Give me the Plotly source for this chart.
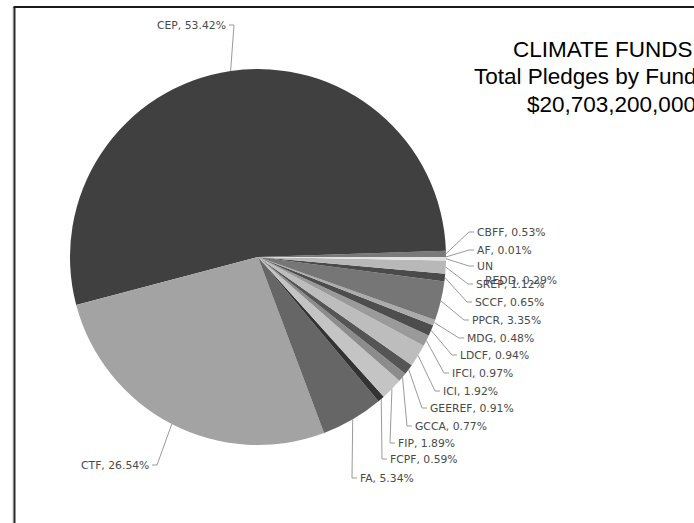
import math
import plotly.graph_objects as go

# Climate funds: share of total pledges (%)
funds = ["AF", "CBFF", "CEP", "CTF", "FA", "FCPF", "FIP", "GCCA", "GEEREF",
         "ICI", "IFCI", "LDCF", "MDG", "PPCR", "SCCF", "SREP", "UN-REDD"]
shares = [0.01, 0.53, 53.42, 26.54, 5.34, 0.59, 1.89, 0.77, 0.91,
          1.92, 0.97, 0.94, 0.48, 3.35, 0.65, 1.12, 0.29]
greys = ["#8a8a8a", "#7a7a7a", "#404040", "#a3a3a3", "#666666", "#333333",
         "#c4c4c4", "#8c8c8c", "#555555", "#bdbdbd", "#9a9a9a", "#4d4d4d",
         "#ababab", "#767676", "#4a4a4a", "#b8b8b8", "#e2e2e2"]
title_lines = ["CLIMATE FUNDS", "Total Pledges by Fund", "$20,703,200,000"]

W, H = 694, 523
cx, cy, r = 258, 257, 188  # pie centre / radius in pixels

# label anchor (px): x where the text meets its leader line, y of text centre;
# side "L" = text sits left of the leader line
label_pos = {
    "CEP": (228, 25, "L"), "CTF": (151, 465, "L"),
    "FA": (358, 478, "R"), "FCPF": (388, 459, "R"), "FIP": (396, 443, "R"),
    "GCCA": (413, 426, "R"), "GEEREF": (428, 408, "R"), "ICI": (441, 391, "R"),
    "IFCI": (450, 373, "R"), "LDCF": (458, 355, "R"), "MDG": (465, 338, "R"),
    "PPCR": (470, 320, "R"), "SCCF": (473, 302, "R"), "SREP": (474, 284, "R"),
    "UN-REDD": (475, 266, "R"), "AF": (475, 250, "R"), "CBFF": (475, 232, "R"),
}

fig = go.Figure(go.Pie(
    labels=funds,
    values=shares,
    sort=False,
    direction="counterclockwise",
    rotation=90,  # first slice starts at 3 o'clock
    marker=dict(colors=greys, line=dict(width=0)),
    textinfo="none",
    showlegend=False,
    hoverinfo="label+value",
    domain=dict(x=[(cx - r) / W, (cx + r) / W],
                y=[(H - cy - r) / H, (H - cy + r) / H]),
))


def px(x, y):
    return x / W, 1 - y / H


label_font = dict(family="DejaVu Sans", size=10.8, color="#4a4a4a")
total = sum(shares)
cum = 0.0
for name, val in zip(funds, shares):
    mid = math.radians(360.0 * (cum + val / 2) / total)
    cum += val
    ex, ey = cx + r * math.cos(mid), cy - r * math.sin(mid)
    lx, ly, side = label_pos[name]
    sgn = -1 if side == "R" else 1
    kx = lx + 6 * sgn
    tx = lx + 1 * sgn
    x0, y0 = px(ex, ey)
    x1, y1 = px(kx, ly)
    x2, y2 = px(tx, ly)
    fig.add_shape(type="path", xref="paper", yref="paper",
                  path=f"M {x0} {y0} L {x1} {y1} L {x2} {y2}",
                  line=dict(color="#9a9a9a", width=1))
    text = f"{name}, {val:.2f}%"
    if name == "UN-REDD":
        first, second = name.split("-")
        fx, fy = px(lx, ly)
        fig.add_annotation(text=first, x=fx, y=fy, xref="paper", yref="paper",
                           xanchor="left", yanchor="middle", showarrow=False,
                           font=label_font)
        sx, sy = px(lx + 8, ly + 14)
        fig.add_annotation(text=f"{second}, {val:.2f}%", x=sx, y=sy,
                           xref="paper", yref="paper", xanchor="left",
                           yanchor="middle", showarrow=False, font=label_font)
        continue
    ax, ay = px(lx, ly)
    fig.add_annotation(text=text, x=ax, y=ay, xref="paper", yref="paper",
                       xanchor="left" if side == "R" else "right",
                       yanchor="middle", showarrow=False, font=label_font)

# title block, one line per annotation
title_at = [(511, 49), (472, 76), (525, 104)]
for line, (tx, ty) in zip(title_lines, title_at):
    ax, ay = px(tx, ty)
    fig.add_annotation(text=line, x=ax, y=ay, xref="paper", yref="paper",
                       xanchor="left", yanchor="middle", showarrow=False,
                       font=dict(family="Liberation Sans", size=22.5,
                                 color="#000000"))

# chart frame (left and top edges)
fig.add_shape(type="line", xref="paper", yref="paper",
              x0=13 / W, x1=13 / W, y0=0, y1=1 - 7 / H,
              line=dict(color="#c8c8c8", width=1))
fig.add_shape(type="line", xref="paper", yref="paper",
              x0=14.5 / W, x1=14.5 / W, y0=0, y1=1 - 7 / H,
              line=dict(color="#2a2a2a", width=2))
fig.add_shape(type="line", xref="paper", yref="paper",
              x0=13.5 / W, x1=1, y0=1 - 7 / H, y1=1 - 7 / H,
              line=dict(color="#1a1a1a", width=2))

fig.update_layout(
    width=W, height=H,
    margin=dict(l=0, r=0, t=0, b=0),
    paper_bgcolor="white", plot_bgcolor="white",
)

fig.write_html("out.html")
